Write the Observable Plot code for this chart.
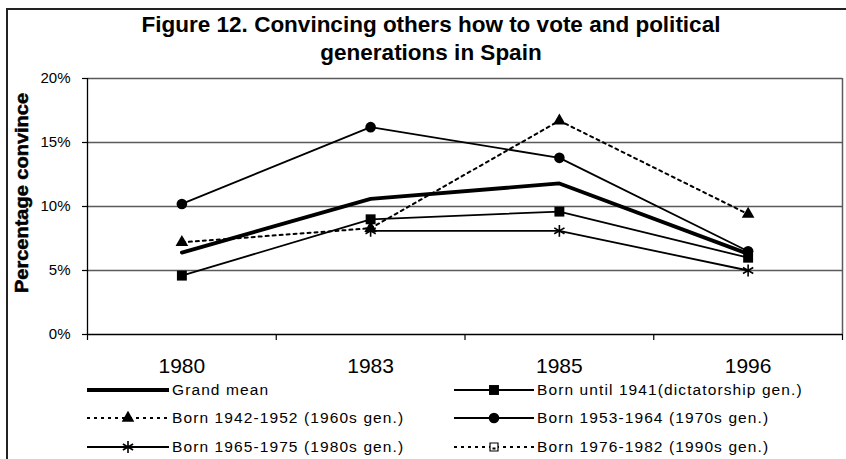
<!DOCTYPE html>
<html><head><meta charset="utf-8">
<script src="https://cdn.jsdelivr.net/npm/d3@7"></script>
<script src="https://cdn.jsdelivr.net/npm/@observablehq/plot@0.6"></script>
<style>
body{margin:0;background:#fff;}
#wrap{position:relative;width:846px;height:459px;overflow:hidden;font-family:"Liberation Sans",Arial,sans-serif;color:#000;background:#fff;}
#frame{position:absolute;left:6px;top:8px;width:900px;height:520px;border:2px solid #222;box-sizing:border-box;}
.tl{position:absolute;left:0;width:862px;text-align:center;font-weight:bold;font-size:22.5px;line-height:28px;white-space:nowrap;}
#chart{position:absolute;left:0;top:0;}
#ytitle{position:absolute;left:0;top:0;}
.leg{position:absolute;height:16px;display:flex;align-items:center;}
.leg svg{display:block;}
.leg span{font-size:15.5px;letter-spacing:1.1px;white-space:nowrap;line-height:16px;}
</style></head>
<body>
<div id="wrap">
  <div id="frame"></div>
  <div class="tl" style="top:11px">Figure 12. Convincing others how to vote and political</div>
  <div class="tl" style="top:39px">generations in Spain</div>
  <div id="chart"></div>
  <svg id="ytitle" width="60" height="459"></svg>
  <div id="legend"></div>
</div>
<script>
// ---- data ----
const years = ["1980", "1983", "1985", "1996"];
const yTicks = [0, 5, 10, 15, 20];
const seriesNames = [
  "Grand mean",
  "Born until 1941(dictatorship gen.)",
  "Born 1942-1952 (1960s gen.)",
  "Born 1953-1964 (1970s gen.)",
  "Born 1965-1975 (1980s gen.)",
  "Born 1976-1982 (1990s gen.)"
];
const grandMean     = [6.4, 10.6, 11.8, 6.3];
const bornUntil1941 = [4.6, 9.0, 9.6, 6.0];
const born1942_1952 = [7.2, 8.3, 16.7, 9.4];
const born1953_1964 = [10.2, 16.2, 13.8, 6.5];
const born1965_1975 = [null, 8.1, 8.1, 5.0];
const born1976_1982 = [null, null, null, null];
const seriesValues = [grandMean, bornUntil1941, born1942_1952, born1953_1964, born1965_1975, born1976_1982];

// ---- styles ----
const styles = [
  {width: 3.8, dash: null, symbol: null},
  {width: 1.8, dash: null, symbol: "square", r: 5.6},
  {width: 2, dash: "3,4", symbol: "triangle", r: 4.7},
  {width: 1.8, dash: null, symbol: "circle", r: 5.3},
  {width: 1.8, dash: null, symbol: "asterisk", r: 5.6},
  {width: 2, dash: "3,4", symbol: "openSquare", r: 4.5}
];

const series = seriesNames.map((name, k) => ({
  name, ...styles[k],
  points: years.map((yr, i) => ({i, year: yr, v: seriesValues[k][i]})).filter(d => d.v != null)
}));

const edges = d3.range(years.length + 1).map(i => i - 0.5);

const lineMarks = [];
const order = [1, 2, 3, 4, 5, 0];
for (const k of order) {
  const s = series[k];
  if (!s.points.length) continue;
  lineMarks.push(Plot.line(s.points, {x: "i", y: "v", stroke: "black", strokeWidth: s.width,
    strokeDasharray: s.dash || undefined, curve: "linear", strokeLinejoin: "miter"}));
}
const dotMarks = [];
for (const k of order) {
  const s = series[k];
  if (!s.symbol || !s.points.length) continue;
  if (s.symbol === "asterisk") {
    dotMarks.push(Plot.dot(s.points, {x: "i", y: "v", symbol: "asterisk", r: s.r, stroke: "black", strokeWidth: 1.6, fill: "none"}));
  } else if (s.symbol === "openSquare") {
    dotMarks.push(Plot.dot(s.points, {x: "i", y: "v", symbol: "square", r: s.r, stroke: "black", strokeWidth: 1.2, fill: "white"}));
  } else {
    dotMarks.push(Plot.dot(s.points, {x: "i", y: "v", symbol: s.symbol, r: s.r, fill: "black", stroke: "none"}));
  }
}

const chart = Plot.plot({
  width: 846, height: 385,
  marginLeft: 87, marginRight: 4, marginTop: 78, marginBottom: 51,
  style: {fontFamily: "'Liberation Sans', Arial, sans-serif", background: "transparent", overflow: "visible", color: "black"},
  x: {domain: [-0.5, years.length - 0.5]},
  y: {domain: [0, 20]},
  marks: [
    Plot.gridY(yTicks.filter(d => d > 0), {stroke: "#5a5a5a", strokeOpacity: 1, strokeWidth: 1.3}),
    Plot.ruleX([years.length - 0.5], {y1: 0, y2: 20, stroke: "#5a5a5a", strokeWidth: 1.5}),
    Plot.axisY({ticks: yTicks, tickFormat: d => d + "%", tickSize: 5, tickPadding: 12, fontSize: 15, label: null, strokeWidth: 1.2}),
    Plot.ruleX([-0.5], {y1: 0, y2: 20, stroke: "black", strokeWidth: 1.3}),
    Plot.ruleY([0], {stroke: "black", strokeWidth: 1.3}),
    Plot.axisX({ticks: edges, tickFormat: () => "", tickSize: 6, label: null, strokeWidth: 1.2}),
    Plot.axisX({ticks: years.map((_, i) => i), tickFormat: i => years[i], tickSize: 0, tickPadding: 24, fontSize: 21, label: null}),
    ...lineMarks,
    ...dotMarks
  ]
});
document.getElementById("chart").appendChild(chart);

// y title
d3.select("#ytitle").append("text")
  .attr("transform", "translate(28,193) rotate(-90)")
  .attr("text-anchor", "middle")
  .attr("font-family", "'Liberation Sans', Arial, sans-serif")
  .attr("font-weight", "bold")
  .attr("font-size", 17.5)
  .attr("stroke", "black")
  .attr("stroke-width", 0.5)
  .attr("textLength", 200)
  .attr("lengthAdjust", "spacingAndGlyphs")
  .text("Percentage convince");

// legend
const legendRows = [390, 418, 447];
const legendCols = [{sx: 87, tx: 172}, {sx: 454, tx: 537}];
const legend = d3.select("#legend");
series.forEach((s, k) => {
  const row = Math.floor(k / 2), col = k % 2;
  const div = legend.append("div").attr("class", "leg")
    .style("left", legendCols[col].sx + "px")
    .style("top", (legendRows[row] - 8) + "px");
  const w = legendCols[col].tx - legendCols[col].sx - 3;
  const svg = div.append("svg").attr("width", w).attr("height", 16);
  svg.append("line").attr("x1", 0).attr("x2", w).attr("y1", 8).attr("y2", 8)
    .attr("stroke", "black").attr("stroke-width", s.width)
    .attr("stroke-dasharray", s.dash);
  if (s.symbol) {
    const typeMap = {square: d3.symbolSquare, triangle: d3.symbolTriangle, circle: d3.symbolCircle, asterisk: d3.symbolAsterisk, openSquare: d3.symbolSquare};
    const p = d3.symbol(typeMap[s.symbol], Math.PI * s.r * s.r)();
    const g = svg.append("path").attr("d", p).attr("transform", `translate(${w / 2},8)`);
    if (s.symbol === "asterisk") g.attr("stroke", "black").attr("stroke-width", 1.6).attr("fill", "none");
    else if (s.symbol === "openSquare") {
      g.attr("stroke", "black").attr("stroke-width", 1.2).attr("fill", "white");
      svg.append("rect").attr("x", w / 2 - 1.5).attr("y", 8.5).attr("width", 3).attr("height", 2).attr("fill", "black");
    }
    else g.attr("fill", "black");
  }
  div.append("span").text(s.name).style("margin-left", (legendCols[col].tx - legendCols[col].sx - w) + "px");
});
</script>
</body></html>
